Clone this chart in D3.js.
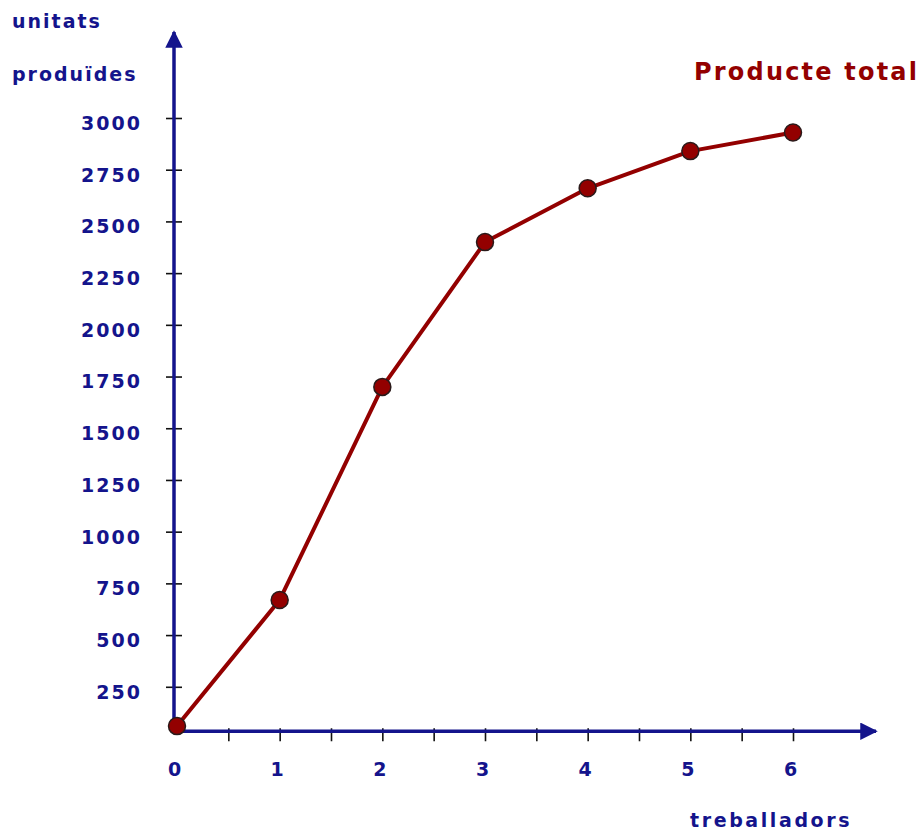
<!DOCTYPE html>
<html><head><meta charset="utf-8">
<script src="https://cdn.jsdelivr.net/npm/d3@7"></script>
<style>body{margin:0;background:#fff}svg{display:block}text{font-family:"DejaVu Sans",sans-serif;font-weight:bold}</style>
</head><body>
<script>
const workers = [0, 1, 2, 3, 4, 5, 6];
const totalProduct = [60, 670, 1700, 2400, 2660, 2840, 2930];
const yTicks = [250, 500, 750, 1000, 1250, 1500, 1750, 2000, 2250, 2500, 2750, 3000];
const xTicks = [0.5, 1, 1.5, 2, 2.5, 3, 3.5, 4, 4.5, 5, 5.5, 6];
const xLabels = [0, 1, 2, 3, 4, 5, 6];
const axisBase = 35;

const W = 921, H = 832;
const navy = "#14148c", red = "#930000";
const svg = d3.select("body").append("svg").attr("width", W).attr("height", H);

const x = d3.scaleLinear().domain([0, 6]).range([177, 793]);
const y = d3.scaleLinear().domain([0, 3000]).range([738.5, 118]);

const defs = svg.append("defs");
defs.append("marker").attr("id","arr").attr("viewBox","0 0 10 10").attr("refX",9).attr("refY",5)
  .attr("markerWidth",5).attr("markerHeight",5).attr("markerUnits","strokeWidth").attr("orient","auto")
  .append("path").attr("d","M0,0 L10,5 L0,10 Z").attr("fill", navy);

const y0 = y(axisBase);
const xAxisX = 174;
const gy = svg.append("g").attr("transform", `translate(${xAxisX},0)`)
  .call(d3.axisLeft(y).tickValues(yTicks).tickSize(0).tickPadding(32).tickFormat(d3.format("d")));
gy.select(".domain").remove();
gy.selectAll(".tick line").attr("x1", -8).attr("x2", 8).attr("stroke", "#111").attr("stroke-width", 1.6);
gy.selectAll(".tick text").attr("fill", navy).attr("font-size", 19).attr("letter-spacing", 2).attr("dy", "0.6em")
  .attr("font-family", "DejaVu Sans").attr("font-weight", "bold");

const gx = svg.append("g").attr("transform", `translate(0,${y0})`)
  .call(d3.axisBottom(x).tickValues(xTicks).tickSize(10).tickFormat(""));
gx.select(".domain").remove();
gx.selectAll(".tick line").attr("y1", -3).attr("stroke", "#111").attr("stroke-width", 1.6);

const gl = svg.append("g").attr("transform", `translate(-3,${y0})`)
  .call(d3.axisBottom(x).tickValues(xLabels).tickSize(0).tickPadding(31).tickFormat(d3.format("d")));
gl.select(".domain").remove();
gl.selectAll(".tick text").attr("fill", navy).attr("font-size", 19)
  .attr("font-family", "DejaVu Sans").attr("font-weight", "bold");

svg.append("line").attr("x1", xAxisX).attr("y1", y0 + 2).attr("x2", xAxisX).attr("y2", 32)
  .attr("stroke", navy).attr("stroke-width", 3.5).attr("marker-end", "url(#arr)");
svg.append("line").attr("x1", xAxisX - 2).attr("y1", y0).attr("x2", 876).attr("y2", y0)
  .attr("stroke", navy).attr("stroke-width", 3.5).attr("marker-end", "url(#arr)");

const data = workers.map((w, i) => ({w, v: totalProduct[i]}));
svg.append("path").datum(data)
  .attr("d", d3.line().x(d => x(d.w)).y(d => y(d.v)))
  .attr("fill", "none").attr("stroke", red).attr("stroke-width", 4).attr("stroke-linejoin", "round");
svg.selectAll("circle.pt").data(data).join("circle").attr("class", "pt")
  .attr("cx", d => x(d.w)).attr("cy", d => y(d.v)).attr("r", 8.5)
  .attr("fill", red).attr("stroke", "#2a1a1a").attr("stroke-width", 1.5);

svg.append("text").attr("x", 12).attr("y", 28).attr("fill", navy).attr("font-size", 19).attr("letter-spacing", 2).text("unitats");
svg.append("text").attr("x", 12).attr("y", 81).attr("fill", navy).attr("font-size", 19).attr("letter-spacing", 2).text("produïdes");
svg.append("text").attr("x", 690).attr("y", 827).attr("fill", navy).attr("font-size", 19).attr("letter-spacing", 2.6).text("treballadors");
svg.append("text").attr("x", 694).attr("y", 80).attr("fill", red).attr("font-size", 24).attr("letter-spacing", 2.2).text("Producte total");
</script>
</body></html>
